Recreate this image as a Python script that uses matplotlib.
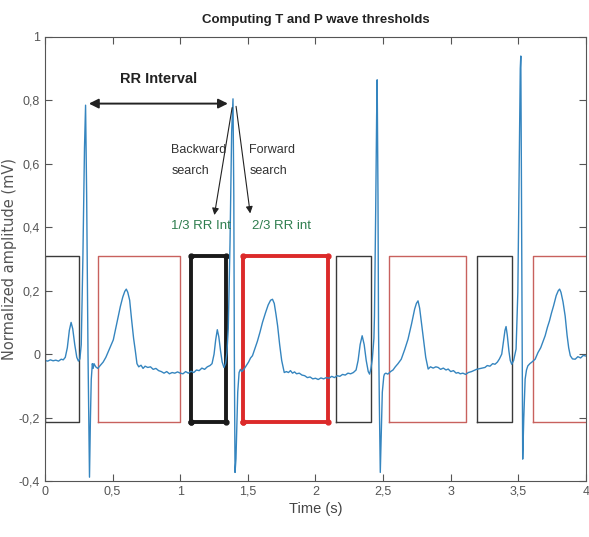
import matplotlib
matplotlib.use("Agg")
import matplotlib.pyplot as plt
import numpy as np

plt.rcParams["font.family"] = ["Liberation Sans", "DejaVu Sans"]

# ECG trace (time s, amplitude mV)
ecg_t = [0.00, 0.02, 0.04, 0.06, 0.08, 0.10, 0.12, 0.135, 0.15, 0.165, 0.18, 0.193, 0.205, 0.22, 0.235, 0.247,
         0.258, 0.268, 0.280, 0.292, 0.300, 0.308, 0.318, 0.329, 0.336, 0.342, 0.350, 0.356, 0.362, 0.375, 0.39,
         0.41, 0.43, 0.45, 0.47, 0.49, 0.505, 0.52, 0.54, 0.557, 0.575, 0.59, 0.601, 0.612, 0.626, 0.64, 0.655,
         0.668, 0.68, 0.693, 0.71, 0.725, 0.74, 0.76, 0.78, 0.80, 0.82, 0.84, 0.86, 0.88, 0.90, 0.92, 0.94, 0.96,
         0.98, 1.00,
         1.02, 1.04, 1.06, 1.08, 1.10, 1.12, 1.14, 1.16, 1.18, 1.20, 1.22, 1.235, 1.25, 1.262, 1.274, 1.285, 1.298,
         1.310, 1.323, 1.335, 1.345, 1.355, 1.368, 1.380, 1.390, 1.396, 1.400, 1.405, 1.412, 1.417, 1.425, 1.435,
         1.445, 1.455, 1.465, 1.475, 1.49, 1.505, 1.52, 1.534, 1.55, 1.57, 1.59, 1.608, 1.63, 1.65, 1.668, 1.682,
         1.695, 1.708, 1.72, 1.735, 1.75, 1.769, 1.785, 1.80, 1.815, 1.83, 1.845, 1.86, 1.88, 1.90, 1.92, 1.94,
         1.96, 1.98, 2.00, 2.02, 2.04, 2.06,
         2.08, 2.10, 2.12, 2.14, 2.16, 2.18, 2.20, 2.22, 2.24, 2.26, 2.28, 2.30, 2.315, 2.33, 2.345, 2.36, 2.375,
         2.39, 2.40, 2.41, 2.42, 2.432, 2.436, 2.445, 2.452, 2.456, 2.462, 2.466, 2.472, 2.479, 2.486, 2.494, 2.505,
         2.51, 2.52, 2.535, 2.555, 2.573, 2.59, 2.61, 2.634, 2.66, 2.684, 2.71, 2.733, 2.746, 2.758, 2.77, 2.783,
         2.80, 2.815, 2.833, 2.85, 2.87, 2.89, 2.907, 2.925, 2.945, 2.965, 2.981, 3.00, 3.02, 3.04, 3.055, 3.07,
         3.09, 3.11,
         3.13, 3.154, 3.17, 3.19, 3.21, 3.23, 3.253, 3.27, 3.29, 3.31, 3.327, 3.345, 3.36, 3.377, 3.39, 3.401,
         3.409, 3.418, 3.43, 3.44, 3.451, 3.465, 3.475, 3.483, 3.496, 3.506, 3.514, 3.518, 3.522, 3.527, 3.532,
         3.540, 3.550, 3.56, 3.57, 3.585, 3.60, 3.624, 3.645, 3.665, 3.682, 3.698, 3.715, 3.73, 3.745, 3.76, 3.78,
         3.795, 3.805, 3.815, 3.83, 3.846, 3.86, 3.872, 3.884, 3.90, 3.92, 3.94, 3.96, 3.98, 4.00]
ecg_v = [-0.020, -0.022, -0.018, -0.021, -0.019, -0.022, -0.016, -0.018, -0.010, 0.020, 0.075, 0.100, 0.080,
         0.030, -0.010, -0.022, -0.015, 0.030, 0.300, 0.650, 0.785, 0.500, 0.000, -0.388, -0.200, -0.080, -0.030,
         -0.045, -0.030, -0.040, -0.045, -0.035, -0.025, -0.010, 0.010, 0.030, 0.045, 0.075, 0.115, 0.150, 0.180,
         0.198, 0.205, 0.195, 0.170, 0.110, 0.050, 0.010, -0.030, -0.040, -0.035, -0.045, -0.038, -0.042, -0.040,
         -0.048, -0.045, -0.052, -0.055, -0.060, -0.055, -0.062, -0.058, -0.060, -0.056, -0.060,
         -0.062, -0.055, -0.060, -0.054, -0.058, -0.050, -0.052, -0.044, -0.048, -0.040, -0.036, -0.030, 0.000,
         0.045, 0.077, 0.055, 0.010, -0.025, -0.042, -0.030, 0.005, 0.080, 0.350, 0.700, 0.805, 0.500, 0.000,
         -0.373, -0.330, -0.246, -0.120, -0.058, -0.048, -0.055, -0.050, -0.045, -0.035, -0.025, -0.012, -0.005,
         0.015, 0.040, 0.070, 0.100, 0.130, 0.155, 0.170, 0.173, 0.160, 0.125, 0.089, 0.030, -0.020, -0.058,
         -0.055, -0.058, -0.052, -0.060, -0.056, -0.062, -0.060, -0.066, -0.068, -0.074, -0.072, -0.078, -0.076,
         -0.080, -0.075, -0.078,
         -0.074, -0.076, -0.070, -0.074, -0.068, -0.070, -0.064, -0.066, -0.060, -0.062, -0.058, -0.050, -0.020,
         0.030, 0.058, 0.030, -0.020, -0.055, -0.063, -0.045, -0.016, 0.050, 0.120, 0.450, 0.750, 0.865, 0.500,
         0.079, -0.150, -0.373, -0.250, -0.120, -0.070, -0.063, -0.060, -0.063, -0.055, -0.050, -0.040, -0.030,
         -0.016, 0.015, 0.047, 0.095, 0.142, 0.160, 0.168, 0.145, 0.100, 0.040, -0.010, -0.047, -0.040, -0.044,
         -0.040, -0.042, -0.048, -0.044, -0.050, -0.047, -0.055, -0.052, -0.060, -0.058, -0.062, -0.060, -0.064,
         -0.058, -0.055, -0.052, -0.048, -0.046, -0.044, -0.042, -0.036, -0.038, -0.030, -0.032, -0.025, -0.015,
         0.000, 0.040, 0.075, 0.087, 0.060, 0.010, -0.020, -0.032, -0.020, 0.000, 0.016, 0.195, 0.600, 0.900,
         0.940, 0.600, 0.100, -0.331, -0.200, -0.079, -0.050, -0.037, -0.030, -0.025, -0.016, 0.005, 0.020, 0.040,
         0.058, 0.085, 0.105, 0.130, 0.152, 0.185, 0.200, 0.205, 0.195, 0.165, 0.120, 0.060, 0.020, -0.005,
         -0.015, -0.016, -0.008, -0.012, -0.004, -0.006]

# search windows: (start, end) in seconds
p_windows = [(0.0, 0.25), (2.15, 2.41), (3.196, 3.45)]
t_windows = [(0.39, 0.995), (2.54, 3.11), (3.61, 4.05)]
p_window_sel = (1.076, 1.34)
t_window_sel = (1.467, 2.09)
win_low, win_high = -0.215, 0.31

rr_start, rr_end, rr_level = 0.304, 1.373, 0.79

xticks = np.arange(0, 4.01, 0.5)
yticks = np.arange(-0.4, 1.01, 0.2)


def box(ax, lo, hi, **kw):
    ax.plot([lo, lo, hi, hi, lo], [win_low, win_high, win_high, win_low, win_low], **kw)


fig = plt.figure(figsize=(5.89, 5.37), dpi=100)
ax = fig.add_axes([0.0764, 0.1043, 0.9185, 0.8268])

for lo, hi in p_windows:
    box(ax, lo, hi, color="#3a3a3a", lw=1.0)
for lo, hi in t_windows:
    box(ax, lo, hi, color="#c8615e", lw=1.0)
box(ax, *p_window_sel, color="#1a1a1a", lw=2.8, marker="o", ms=3.5)
box(ax, *t_window_sel, color="#dc2a2a", lw=2.8, marker="o", ms=3.5)

ax.plot(ecg_t, ecg_v, color="#3585bf", lw=1.0)

# annotations
ax.annotate("", xy=(rr_start, rr_level), xytext=(rr_end, rr_level),
            arrowprops=dict(arrowstyle="<|-|>", color="#222222", lw=1.4, mutation_scale=14))
ax.text(0.84, 0.866, "RR Interval", ha="center", va="center", fontsize=10.5, fontweight="bold", color="#222222")
ax.annotate("", xy=(1.249, 0.43), xytext=(1.387, 0.786),
            arrowprops=dict(arrowstyle="-|>", color="#222222", lw=0.8, mutation_scale=10))
ax.annotate("", xy=(1.52, 0.435), xytext=(1.41, 0.79),
            arrowprops=dict(arrowstyle="-|>", color="#222222", lw=0.8, mutation_scale=10))
ax.text(0.935, 0.61, "Backward\nsearch", ha="left", va="center", fontsize=9, color="#333333",
        linespacing=2.0)
ax.text(1.51, 0.61, "Forward\nsearch", ha="left", va="center", fontsize=9, color="#333333",
        linespacing=2.0)
ax.text(1.155, 0.405, "1/3 RR Int", ha="center", va="center", fontsize=9.5, color="#2e7d4e")
ax.text(1.75, 0.405, "2/3 RR int", ha="center", va="center", fontsize=9.5, color="#2e7d4e")

ax.set_xlim(0, 4)
ax.set_ylim(-0.4, 1)
ax.set_xticks(xticks)
ax.set_yticks(yticks)
ax.set_xticklabels([f"{v:g}".replace(".", ",") for v in xticks])
ax.set_yticklabels([f"{round(v, 1):g}".replace(".", ",") for v in yticks])
ax.tick_params(direction="in", length=5, top=True, right=True, labelsize=9, colors="#555555",
               labelcolor="#555555")
for s in ax.spines.values():
    s.set_color("#555555")
    s.set_linewidth(0.8)

ax.set_title("Computing T and P wave thresholds", fontsize=9.5, fontweight="bold", color="#222222", pad=10)
ax.set_xlabel("Time (s)", fontsize=10.5, color="#444444", labelpad=3)
ax.set_ylabel("Normalized amplitude (mV)", fontsize=10.5, color="#555555", family="DejaVu Sans")
ax.yaxis.set_label_coords(-0.052, 0.5)

fig.savefig("out.png", dpi=100)
